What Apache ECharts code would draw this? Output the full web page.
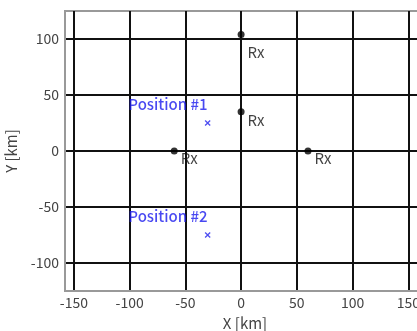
<!DOCTYPE html>
<html>
<head>
<meta charset="utf-8">
<script src="https://cdn.jsdelivr.net/npm/echarts@6/dist/echarts.min.js"></script>
<style>
html, body { margin: 0; padding: 0; background: #fff; }
#chart { width: 417px; height: 331px; }
</style>
</head>
<body>
<div id="chart"></div>
<script>
// receiver positions [x km, y km]
var rxPoints = [[0, 104], [0, 35], [-60, 0], [60, 0]];
// how far below the dot each Rx label sits
var rxLabelDrop = [18, 8, 7, 7];
// transmitter positions
var posPoints = [[-30, 25], [-30, -75]];
var posNames = ['Position #1', 'Position #2'];
var xTicks = [-150, -100, -50, 0, 50, 100, 150];
var yTicks = [-100, -50, 0, 50, 100];

var font = '"Noto Sans CJK JP", "DejaVu Sans", sans-serif';
var crossPath = 'path://M0,1.5L1.5,0L5,3.5L8.5,0L10,1.5L6.5,5L10,8.5L8.5,10L5,6.5L1.5,10L0,8.5L3.5,5Z';

var option = {
    animation: false,
    grid: {left: 65, top: 11, right: -8, bottom: 40, outerBoundsMode: 'none',
        show: true, borderColor: '#999', borderWidth: 2},
    xAxis: {
        type: 'value', min: -158, max: 165,
        name: 'X [km]', nameLocation: 'middle', nameGap: 25,
        nameTextStyle: {fontFamily: font, fontSize: 15, color: '#444'},
        axisLine: {show: true, onZero: false, lineStyle: {color: '#999', width: 2}},
        axisTick: {show: false, customValues: xTicks},
        axisLabel: {customValues: xTicks, fontFamily: font, fontSize: 14, color: '#444', margin: 5},
        splitLine: {show: true, lineStyle: {color: '#111', width: 2}}
    },
    yAxis: {
        type: 'value', min: -125, max: 125,
        name: 'Y [km]', nameLocation: 'middle', nameGap: 46,
        nameTextStyle: {fontFamily: font, fontSize: 15, color: '#444'},
        axisLine: {show: true, onZero: false, lineStyle: {color: '#999', width: 2}},
        axisTick: {show: false, customValues: yTicks},
        axisLabel: {customValues: yTicks, fontFamily: font, fontSize: 14, color: '#444', margin: 6},
        splitLine: {show: true, lineStyle: {color: '#111', width: 2}}
    },
    series: [
        {
            type: 'scatter', symbol: 'circle', symbolSize: 7,
            data: rxPoints.map(function (p, i) {
                return {value: p, label: {offset: [-2, rxLabelDrop[i]]}};
            }),
            itemStyle: {color: '#000'},
            label: {show: true, formatter: 'Rx', position: 'right',
                fontFamily: font, fontSize: 15, color: '#111'}
        },
        {
            type: 'scatter', symbol: crossPath, symbolSize: 6,
            data: posPoints.map(function (p, i) { return {value: p, name: posNames[i]}; }),
            itemStyle: {color: '#2222ee'},
            label: {show: true, formatter: '{b}', position: 'left', offset: [8, -19],
                fontFamily: font, fontSize: 15, fontWeight: 500, color: '#1a1aee'}
        }
    ]
};
var myChart = echarts.init(document.getElementById('chart'));
myChart.setOption(option);
</script>
</body>
</html>
